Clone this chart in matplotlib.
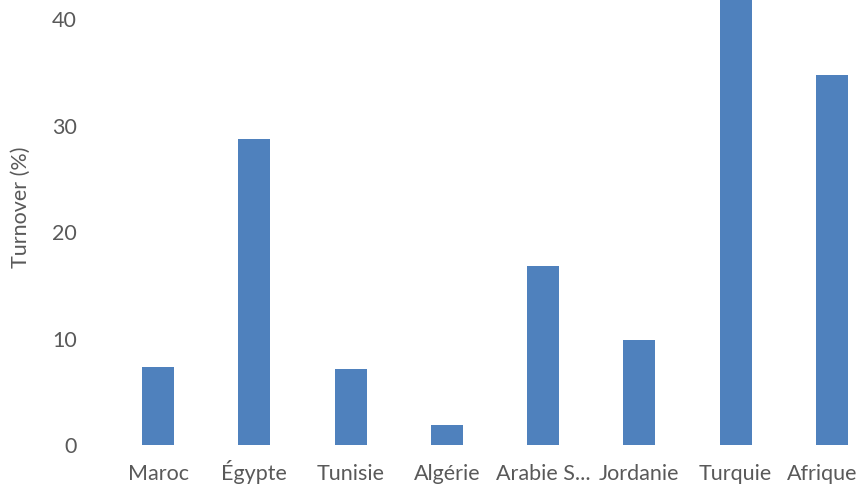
import matplotlib.pyplot as plt
import matplotlib.transforms as mtransforms

pays = ['Maroc', 'Égypte', 'Tunisie', 'Algérie', 'Arabie S...', 'Jordanie', 'Turquie', 'Afrique']
turnover = [7.3, 28.7, 7.1, 1.9, 16.8, 9.9, 45.0, 34.8]

plt.rcParams['font.family'] = ['Lato', 'DejaVu Sans']

fig = plt.figure(figsize=(8.61, 4.87), dpi=100)
# axes run past the right edge: the source image is cropped
ax = fig.add_axes([110 / 861, 42 / 487, 770 / 861, 445 / 487])

ax.bar(range(len(pays)), turnover, width=0.33, color='#4f81bd')
ax.set_xlim(-0.5, len(pays) - 0.5)
ax.set_ylim(0, 41.8)
ax.set_yticks([0, 10, 20, 30, 40])
ax.set_xticks(range(len(pays)))
ax.set_xticklabels(pays, va='baseline')

for s in ax.spines.values():
    s.set_visible(False)
ax.tick_params(axis='both', length=0, colors='#595959', labelsize=15.5)
ax.tick_params(axis='y', pad=24)
ax.tick_params(axis='x', pad=25)

# last label is pushed left so it stays inside the picture
last = ax.get_xticklabels()[-1]
last.set_transform(last.get_transform() + mtransforms.ScaledTranslation(-10 / 100, 0, fig.dpi_scale_trans))

ax.set_ylabel('Turnover (%)', color='#595959', fontsize=15.5)
ax.yaxis.label.set_va('center')
ax.yaxis.set_label_coords(-0.1156, 0.535)

fig.savefig('out.png', dpi=100)
